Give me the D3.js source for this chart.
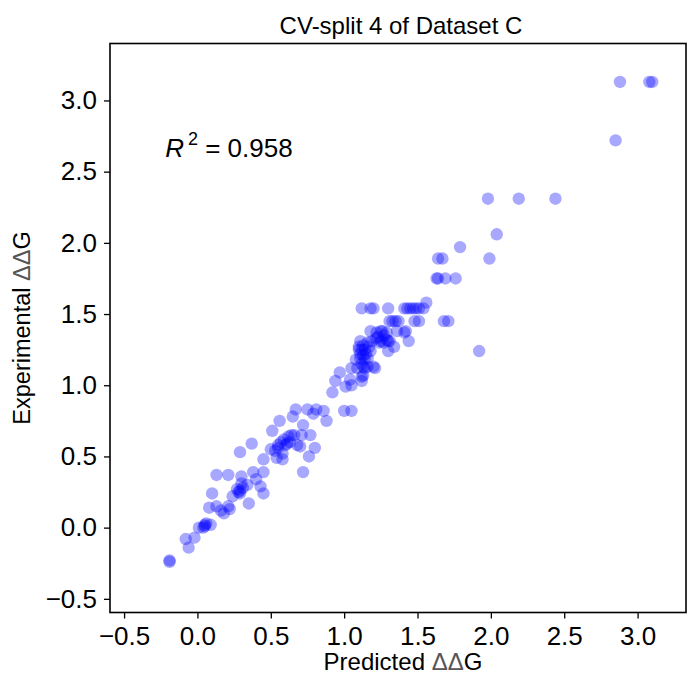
<!DOCTYPE html>
<html>
<head>
<meta charset="utf-8">
<script src="https://cdn.jsdelivr.net/npm/d3@7"></script>
<style>
  html, body { margin: 0; padding: 0; background: #fff; }
  svg { display: block; font-family: "Liberation Sans", Arial, sans-serif; }
</style>
</head>
<body>
<svg id="chart" width="687" height="680"></svg>
<script>
// ---- data ----
const titleText = "CV-split 4 of Dataset C";
const xLabel = "Predicted ";
const yLabel = "Experimental ";
const deltaText = "\u0394\u0394";
const r2Value = "0.958";
const xTicks = [-0.5, 0.0, 0.5, 1.0, 1.5, 2.0, 2.5, 3.0];
const yTicks = [-0.5, 0.0, 0.5, 1.0, 1.5, 2.0, 2.5, 3.0];

const predicted = [
  -0.19,-0.19,-0.06,-0.08,-0.02,0.05,0.05,0.04,0.06,0.01,0.09,0.08,0.13,0.18,0.16,0.21,0.22,0.10,0.13,0.21,
  0.29,0.28,0.29,0.27,0.24,0.30,0.31,0.30,0.35,0.34,0.38,0.40,0.43,0.45,0.45,0.45,0.29,0.37,0.50,0.51,
  0.53,0.55,0.56,0.55,0.57,0.59,0.60,0.62,0.64,0.58,0.54,0.58,0.61,0.63,0.66,0.68,0.70,0.71,0.72,0.76,
  0.80,0.77,0.72,0.65,0.67,0.75,0.79,0.81,0.86,0.88,1.00,1.05,
  0.92,0.94,0.97,1.01,1.05,1.04,1.12,1.12,1.09,1.14,1.21,1.05,1.08,1.11,1.16,1.13,1.10,1.12,1.14,1.18,
  1.10,1.11,1.16,1.13,1.16,1.13,1.20,1.18,1.22,1.25,1.26,1.29,1.29,1.27,1.24,1.25,1.30,1.31,1.30,1.34,
  1.36,1.41,1.42,1.44,1.31,1.33,1.35,1.37,1.48,1.51,1.68,1.71,1.12,1.18,1.20,1.30,1.41,1.43,1.45,1.47,
  1.49,1.51,1.54,1.56,1.92,
  1.12,1.14,1.15,1.11,1.17,1.13,1.19,1.22,1.27,1.23,
  1.63,1.64,1.69,1.76,1.64,1.67,1.99,1.79,2.04,1.98,2.19,2.44,2.85,2.88,3.08,3.10
];
const experimental = [
  -0.24,-0.23,-0.14,-0.08,-0.07,0.01,0.02,0.00,0.03,0.00,0.02,0.14,0.15,0.10,0.12,0.15,0.13,0.24,0.37,0.37,
  0.24,0.25,0.26,0.27,0.22,0.31,0.28,0.36,0.17,0.30,0.39,0.34,0.29,0.24,0.39,0.48,0.53,0.59,0.55,0.68,
  0.54,0.58,0.75,0.56,0.60,0.62,0.58,0.64,0.65,0.52,0.49,0.48,0.59,0.60,0.65,0.58,0.57,0.65,0.39,0.50,
  0.56,0.65,0.72,0.78,0.83,0.83,0.80,0.83,0.82,0.75,0.82,0.82,
  0.95,1.03,1.09,0.99,1.00,1.04,1.03,1.06,1.12,1.12,1.12,1.12,1.18,1.19,1.19,1.21,1.25,1.25,1.25,1.24,
  1.27,1.31,1.30,1.13,1.13,1.07,1.13,1.38,1.37,1.38,1.38,1.37,1.32,1.30,1.30,1.31,1.31,1.31,1.24,1.27,
  1.38,1.37,1.38,1.31,1.45,1.45,1.45,1.45,1.45,1.45,1.45,1.45,1.54,1.54,1.54,1.54,1.54,1.54,1.54,1.54,
  1.54,1.54,1.54,1.58,1.24,
  1.15,1.18,1.22,1.22,1.27,1.28,1.31,1.33,1.35,1.34,
  1.75,1.75,1.75,1.75,1.89,1.89,1.89,1.97,2.06,2.31,2.31,2.31,2.72,3.13,3.13,3.13
];

// ---- layout ----
const svg = d3.select("#chart");
const plot = { left: 110, right: 686, top: 43.5, bottom: 612.5 };

const x = d3.scaleLinear().domain([-0.596, 3.33]).range([plot.left, plot.right]);
const y = d3.scaleLinear().domain([-0.596, 3.40]).range([plot.bottom, plot.top]);

const points = predicted.map((p, i) => ({ p, e: experimental[i] }));

// points
svg.append("g")
  .selectAll("circle")
  .data(points)
  .join("circle")
  .attr("cx", d => x(d.p))
  .attr("cy", d => y(d.e))
  .attr("r", 6.2)
  .attr("fill", "#0000ff")
  .attr("fill-opacity", 0.34);

// axes
const fmt = d3.format(".1f");
const tickFmt = v => fmt(v).replace("-", "\u2212");

const xAxis = svg.append("g")
  .attr("transform", `translate(0,${plot.bottom})`)
  .call(d3.axisBottom(x).tickValues(xTicks).tickFormat(tickFmt).tickSize(6).tickPadding(8).tickSizeOuter(0));
const yAxis = svg.append("g")
  .attr("transform", `translate(${plot.left},0)`)
  .call(d3.axisLeft(y).tickValues(yTicks).tickFormat(tickFmt).tickSize(6).tickPadding(7).tickSizeOuter(0));

[xAxis, yAxis].forEach(g => {
  g.select(".domain").remove();
  g.selectAll(".tick line").attr("stroke", "#000").attr("stroke-width", 1.3);
  g.selectAll(".tick text").attr("font-size", 26).attr("fill", "#000")
    .attr("font-family", "'Liberation Sans', Arial, sans-serif");
});

// frame
svg.append("rect")
  .attr("x", plot.left).attr("y", plot.top)
  .attr("width", plot.right - plot.left).attr("height", plot.bottom - plot.top)
  .attr("fill", "none").attr("stroke", "#000").attr("stroke-width", 1.6);

// title
svg.append("text")
  .attr("x", (plot.left + plot.right) / 2 + 3).attr("y", 34)
  .attr("text-anchor", "middle").attr("font-size", 24).attr("fill", "#000")
  .text(titleText);

// x label
const xl = svg.append("text")
  .attr("x", 403).attr("y", 670)
  .attr("text-anchor", "middle").attr("font-size", 24).attr("fill", "#000");
xl.append("tspan").text(xLabel);
xl.append("tspan").attr("fill", "#555").text(deltaText);
xl.append("tspan").text("G");

// y label
const yl = svg.append("text")
  .attr("transform", `translate(30,${(plot.top + plot.bottom) / 2}) rotate(-90)`)
  .attr("text-anchor", "middle").attr("font-size", 23.5).attr("fill", "#000");
yl.append("tspan").text(yLabel);
yl.append("tspan").attr("fill", "#555").text(deltaText);
yl.append("tspan").text("G");

// R^2 annotation
const r2 = svg.append("text")
  .attr("x", x(-0.22)).attr("y", y(2.6))
  .attr("font-size", 26).attr("fill", "#000");
r2.append("tspan").attr("font-style", "italic").text("R");
r2.append("tspan").attr("font-size", 18).attr("dx", 4).attr("dy", -12).text("2");
r2.append("tspan").attr("dy", 12).text(" = " + r2Value);
</script>
</body>
</html>
